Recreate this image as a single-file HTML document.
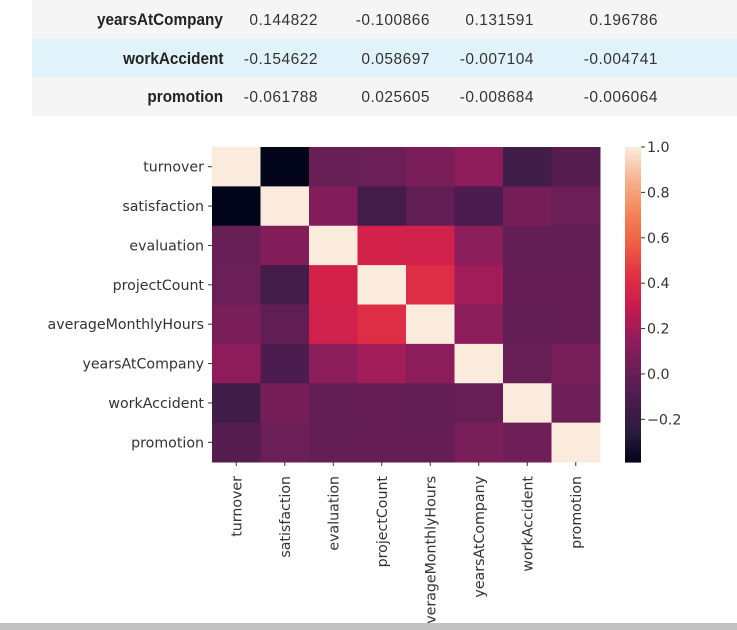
<!DOCTYPE html>
<html><head><meta charset="utf-8">
<style>
html,body{margin:0;padding:0;width:737px;height:630px;overflow:hidden;background:#fff;font-family:"Liberation Sans","DejaVu Sans",sans-serif;}
.tbl{position:absolute;left:32px;top:0;width:705px;}
.row{position:relative;height:38.5px;font-size:15.5px;color:#333;}
.row span{position:absolute;top:12px;text-align:right;letter-spacing:0.5px;}
.row b{position:absolute;right:514px;top:10px;font-size:17px;color:#222;transform:scaleX(0.9);transform-origin:right center;}
#bar{position:absolute;left:0;top:623px;width:737px;height:7px;background:#c1c1c1;}
svg{position:absolute;left:0;top:0;}
svg text{font-family:"DejaVu Sans","Liberation Sans",sans-serif;font-size:14.2px;fill:#333;}
</style></head><body>
<div class="tbl">
 <div class="row" style="background:#f5f5f5"><b>yearsAtCompany</b><span style="right:419px">0.144822</span><span style="right:307px">-0.100866</span><span style="right:203px">0.131591</span><span style="right:79px">0.196786</span></div>
 <div class="row" style="background:#e1f3fa"><b>workAccident</b><span style="right:419px">-0.154622</span><span style="right:307px">0.058697</span><span style="right:203px">-0.007104</span><span style="right:79px">-0.004741</span></div>
 <div class="row" style="background:#f5f5f5"><b>promotion</b><span style="right:419px">-0.061788</span><span style="right:307px">0.025605</span><span style="right:203px">-0.008684</span><span style="right:79px">-0.006064</span></div>
</div>
<svg id="chart" width="737" height="630"></svg>
<div id="bar"></div>
<script>
const labels=["turnover","satisfaction","evaluation","projectCount","averageMonthlyHours","yearsAtCompany","workAccident","promotion"];
const row0=[1,-0.388,0.007,0.024,0.071,0.145,-0.155,-0.062];
const row1=[-0.388,1,0.105,-0.143,-0.020,-0.101,0.059,0.026];
const row2=[0.007,0.105,1,0.349,0.340,0.132,-0.007,-0.009];
const row3=[0.024,-0.143,0.349,1,0.417,0.197,-0.005,-0.006];
const row4=[0.071,-0.020,0.340,0.417,1,0.128,-0.010,-0.004];
const row5=[0.145,-0.101,0.132,0.197,0.128,1,0.002,0.067];
const row6=[-0.155,0.059,-0.007,-0.005,-0.010,0.002,1,0.039];
const row7=[-0.062,0.026,-0.009,-0.006,-0.004,0.067,0.039,1];
const matrix=[row0,row1,row2,row3,row4,row5,row6,row7];
const cbTicks=[1.0,0.8,0.6,0.4,0.2,0.0,-0.2];
const cbLabels=["1.0","0.8","0.6","0.4","0.2","0.0","\u22120.2"];
const vmin=-0.388,vmax=1;
const stops=[[3,5,26],[43,28,62],[74,28,78],[108,31,87],[150,28,91],[203,27,79],[225,51,66],[240,96,67],[244,135,94],[246,180,142],[250,235,221]];
function cmap(v){let t=Math.max(0,Math.min(1,(v-vmin)/(vmax-vmin)))*(stops.length-1);let i=Math.min(Math.floor(t),stops.length-2),f=t-i;const c=stops[i].map((a,k)=>Math.round(a+(stops[i+1][k]-a)*f));return `rgb(${c})`;}
const svg=document.getElementById('chart');const NS="http://www.w3.org/2000/svg";
const X0=212,X1=600,Y0=147,Y1=462,n=labels.length,cw=(X1-X0)/n,ch=(Y1-Y0)/n;
const xs=i=>X0+i*cw, ys=i=>Y0+i*ch;
function mk(t,a){const e=document.createElementNS(NS,t);for(const k in a)e.setAttribute(k,a[k]);svg.appendChild(e);return e;}
matrix.forEach((r,i)=>r.forEach((v,j)=>{const e=mk('rect',{x:xs(j),y:ys(i),width:cw+0.5,height:ch+0.5,fill:cmap(v)});

}));
labels.forEach((l,i)=>{const cy=ys(i)+ch/2;mk('line',{x1:X0-4,x2:X0,y1:cy,y2:cy,stroke:'#333'});
const t=mk('text',{x:X0-8,y:cy+5,'text-anchor':'end'});t.textContent=l;


const cx=xs(i)+cw/2;mk('line',{x1:cx,x2:cx,y1:Y1,y2:Y1+4,stroke:'#333'});
const u=mk('text',{x:0,y:0,'text-anchor':'end',transform:`translate(${cx+5},${Y1+14}) rotate(-90)`});u.textContent=l;

});
const CX=625,CW=16;const cy=v=>Y1-(v-vmin)/(vmax-vmin)*(Y1-Y0);
for(let k=0;k<100;k++){const v0=vmin+(vmax-vmin)*k/100,v1=vmin+(vmax-vmin)*(k+1)/100;mk('rect',{x:CX,y:cy(v1),width:CW,height:cy(v0)-cy(v1)+0.6,fill:cmap((v0+v1)/2)});}
cbTicks.forEach((v,i)=>{const y=cy(v);mk('line',{x1:CX+CW,x2:CX+CW+4,y1:y,y2:y,stroke:'#333'});const t=mk('text',{x:CX+CW+6,y:y+5});t.textContent=cbLabels[i];

});
</script>
</body></html>
